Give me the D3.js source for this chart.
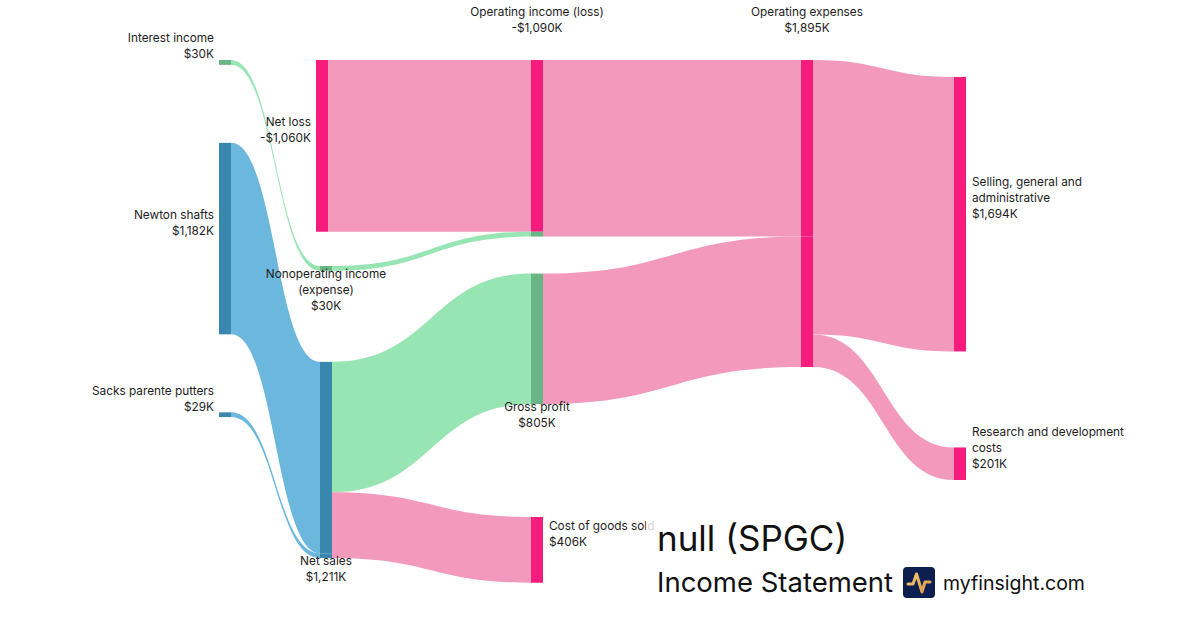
<!DOCTYPE html>
<meta charset="utf-8">
<script src="https://d3js.org/d3.v7.min.js"></script>
<style>
    body { margin: 0; background: #fff; }
    svg { font-family: Inter, sans-serif; display: block; }
</style>
<svg id="vis"></svg>
<script>
    // Income statement nodes (values in $K)
    let nodeNames = ['Interest income', 'Newton shafts', 'Sacks parente putters', 'Net loss',
        'Nonoperating income (expense)', 'Net sales', 'Operating income (loss)', 'Gross profit',
        'Cost of goods sold', 'Operating expenses', 'Selling, general and administrative',
        'Research and development costs']
    let nodeValues = [30, 1182, 29, -1060, 30, 1211, -1090, 805, 406, 1895, 1694, 201]

    // Flows (indexes into nodeNames)
    let linkSources = [0, 1, 2, 3, 4, 5, 5, 6, 7, 9, 9]
    let linkTargets = [4, 5, 5, 6, 6, 7, 8, 9, 9, 10, 11]
    let linkValues = [30, 1182, 29, 1060, 30, 805, 406, 1090, 805, 1694, 201]
    let linkKinds = ['profit', 'revenue', 'revenue', 'cost', 'profit', 'profit', 'cost', 'cost', 'cost', 'cost', 'cost']

    // Layout: column of each node, gap above it (px), where its label goes
    let nodeColumn = ['c0', 'c0', 'c0', 'c1a', 'c1', 'c1', 'c2', 'c2', 'c2', 'c3', 'c4', 'c4']
    let nodeGap = [0, 78, 78, 0, 206, 91, 0, 37, 113, 0, 17, 96]
    let labelSide = ['left', 'left', 'left', 'left', 'below', 'below', 'above', 'below', 'right', 'above', 'right', 'right']

    let linkColor = {revenue: '#6cb7dd', profit: '#98e5b4', cost: '#f39abc'}
    let nodeColor = {revenue: '#3a87ad', profit: '#6ab585', cost: '#f51c7d'}

    let width = 1200, height = 630, topY = 60, nodeWidth = 12

    let svg = d3.select('#vis')
        .attr('width', width)
        .attr('height', height)

    let x = d3.scaleOrdinal()
        .domain(['c0', 'c1a', 'c1', 'c2', 'c3', 'c4'])
        .range([219, 316, 320, 531, 801, 954])

    let h = d3.scaleLinear()
        .domain([0, 1895])
        .range([0, 307])

    // build nodes, stacked per column
    let nodes = nodeNames.map(function (name, i) {
        return {name: name, value: nodeValues[i], col: nodeColumn[i], side: labelSide[i], inLinks: [], outLinks: []}
    })
    let colBottom = {}
    nodes.forEach(function (n, i) {
        let start = (colBottom[n.col] === undefined ? topY : colBottom[n.col]) + nodeGap[i]
        n.x0 = x(n.col)
        n.x1 = n.x0 + nodeWidth
        n.y0 = start
        n.y1 = start + h(Math.abs(n.value))
        colBottom[n.col] = n.y1
    })

    let links = linkValues.map(function (v, i) {
        let l = {source: nodes[linkSources[i]], target: nodes[linkTargets[i]], value: v, kind: linkKinds[i]}
        l.source.outLinks.push(l)
        l.target.inLinks.push(l)
        return l
    })

    // stack link ends on each node
    nodes.forEach(function (n) {
        let y = n.y0
        n.outLinks.sort(function (a, b) { return a.target.y0 - b.target.y0 })
            .forEach(function (l) { l.sy0 = y; y += h(l.value); l.sy1 = y })
        y = n.y0
        n.inLinks.sort(function (a, b) { return a.source.y0 - b.source.y0 })
            .forEach(function (l) { l.ty0 = y; y += h(l.value); l.ty1 = y })
    })

    function linkPath(l) {
        let x0 = l.source.x1, x1 = l.target.x0, xm = (x0 + x1) / 2
        let p = d3.path()
        p.moveTo(x0, l.sy0)
        p.bezierCurveTo(xm, l.sy0, xm, l.ty0, x1, l.ty0)
        p.lineTo(x1, l.ty1)
        p.bezierCurveTo(xm, l.ty1, xm, l.sy1, x0, l.sy1)
        p.closePath()
        return p.toString()
    }

    svg.append('g')
        .selectAll('path')
        .data(links)
        .enter()
        .append('path')
        .attr('d', linkPath)
        .style('fill', function (d) { return linkColor[d.kind] })

    // node bars, coloured per incoming (or outgoing) flow
    let segs = []
    nodes.forEach(function (n) {
        if (n.inLinks.length) {
            n.inLinks.forEach(function (l) { segs.push({x: n.x0, y0: l.ty0, y1: l.ty1, kind: l.kind}) })
        } else {
            n.outLinks.forEach(function (l) { segs.push({x: n.x0, y0: l.sy0, y1: l.sy1, kind: l.kind}) })
        }
    })
    svg.append('g')
        .selectAll('rect')
        .data(segs)
        .enter()
        .append('rect')
        .attr('x', function (d) { return d.x })
        .attr('y', function (d) { return d.y0 })
        .attr('width', nodeWidth)
        .attr('height', function (d) { return d.y1 - d.y0 })
        .style('fill', function (d) { return nodeColor[d.kind] })

    // labels
    let fmt = d3.format(',')
    let labels = svg.append('g')
        .style('font-size', '11.8px')
        .style('fill', '#1c1c1c')

    function wrap(name, maxWidth) {
        let probe = labels.append('text').style('visibility', 'hidden')
        let words = name.split(' '), lines = [], line = ''
        words.forEach(function (w) {
            let test = line ? line + ' ' + w : w
            probe.text(test)
            if (line && probe.node().getComputedTextLength() > maxWidth) {
                lines.push(line)
                line = w
            } else {
                line = test
            }
        })
        lines.push(line)
        probe.remove()
        return lines
    }

    nodes.forEach(function (n) {
        let lines = wrap(n.name, 160)
        lines.push((n.value < 0 ? '-' : '') + '$' + fmt(Math.abs(n.value)) + 'K')
        let cy = (n.y0 + n.y1) / 2, tx, ty, anchor
        if (n.side === 'left') {
            tx = n.x0 - 5; anchor = 'end'; ty = cy - 8 * lines.length - 4
        } else if (n.side === 'right') {
            tx = n.x1 + 6; anchor = 'start'; ty = cy - 8 * lines.length - 4
        } else if (n.side === 'above') {
            tx = n.x0 + nodeWidth / 2; anchor = 'middle'; ty = n.y0 - 28 - 16 * (lines.length - 1)
        } else {
            tx = n.x0 + nodeWidth / 2; anchor = 'middle'; ty = n.y1 + 7
        }
        let t = labels.append('text')
            .attr('text-anchor', anchor)
            .attr('x', tx)
            .attr('y', ty)
        lines.forEach(function (s, i) {
            t.append('tspan')
                .attr('x', tx)
                .attr('dy', i === 0 ? 0 : 16)
                .text(s)
        })
    })

    // title block
    let title = svg.append('g')
    title.append('rect')
        .attr('x', 646)
        .attr('y', 512)
        .attr('width', 460)
        .attr('height', 100)
        .style('fill', '#fff')
        .style('opacity', 0.8)
    title.append('text')
        .attr('x', 657)
        .attr('y', 551)
        .style('font-size', '35px')
        .style('fill', '#111')
        .text('null (SPGC)')
    title.append('text')
        .attr('x', 657)
        .attr('y', 592)
        .style('font-size', '27.5px')
        .style('fill', '#111')
        .text('Income Statement')

    let logo = title.append('g').attr('transform', 'translate(903,567)')
    let grad = svg.append('defs').append('linearGradient')
        .attr('id', 'gold')
        .attr('x1', '0').attr('y1', '0').attr('x2', '1').attr('y2', '1')
    grad.append('stop').attr('offset', '0').attr('stop-color', '#f7c870')
    grad.append('stop').attr('offset', '1').attr('stop-color', '#d99a45')
    logo.append('rect')
        .attr('width', 32)
        .attr('height', 31)
        .attr('rx', 4)
        .style('fill', '#0d1f4f')
    logo.append('path')
        .attr('d', 'M5,17 L10,17 L13.5,7 L19,25 L22,15 L27,15')
        .style('fill', 'none')
        .style('stroke', 'url(#gold)')
        .style('stroke-width', 3)
        .style('stroke-linecap', 'round')
        .style('stroke-linejoin', 'round')
    title.append('text')
        .attr('x', 943)
        .attr('y', 590)
        .style('font-size', '19.5px')
        .style('fill', '#111')
        .text('myfinsight.com')
</script>
